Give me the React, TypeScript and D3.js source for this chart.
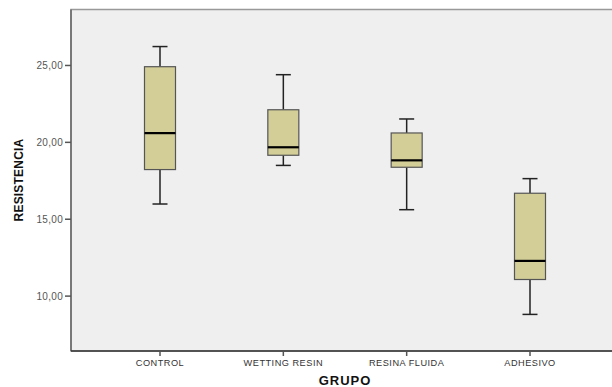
import React from "react";
import * as d3 from "d3";

const categories = ["CONTROL", "WETTING RESIN", "RESINA FLUIDA", "ADHESIVO"];
const whiskerLow = [15.99, 18.5, 15.62, 8.81];
const q1 = [18.23, 19.16, 18.38, 11.08];
const median = [20.6, 19.68, 18.83, 12.29];
const q3 = [24.92, 22.12, 20.61, 16.69];
const whiskerHigh = [26.23, 24.4, 21.52, 17.64];
const yTicks = [10, 15, 20, 25];

export default function App() {
  const W = 612, H = 387;
  const left = 71, top = 9.5, bottom = 351, right = 614;
  const y = d3.scaleLinear().domain([6.43, 28.64]).range([bottom, top]);
  const x = d3.scalePoint<string>().domain(categories).range([160, 530]);
  const bw = 31, cap = 15;
  const fmt = (v: number) => d3.format(".2f")(v).replace(".", ",");
  return (
    <svg width={W} height={H} style={{ position: "absolute", left: 0, top: 0, fontFamily: "Arial, Liberation Sans, sans-serif" }}>
      <rect x={0} y={0} width={W} height={H} fill="#fff" />
      <rect x={left} y={top} width={right - left} height={bottom - top} fill="#efefef" stroke="#999" strokeWidth={1.5} />
      <line x1={left} y1={top} x2={left} y2={bottom} stroke="#666" strokeWidth={1.5} />
      <line x1={left} y1={bottom} x2={right} y2={bottom} stroke="#333" strokeWidth={1.5} />
      {yTicks.map((t) => (
        <g key={t}>
          <line x1={left - 6} x2={left} y1={y(t)} y2={y(t)} stroke="#555" strokeWidth={1.5} />
          <text x={left - 8} y={y(t)} dy="0.35em" textAnchor="end" fontSize={10} letterSpacing={0.3} fill="#555">{fmt(t)}</text>
        </g>
      ))}
      {categories.map((c, i) => {
        const cx = x(c)!;
        return (
          <g key={c}>
            <line x1={cx} x2={cx} y1={bottom} y2={bottom + 5} stroke="#555" strokeWidth={1.5} />
            <text x={cx} y={bottom + 15} textAnchor="middle" fontSize={9.2} letterSpacing={0.5} fill="#333">{c}</text>
            <line x1={cx} x2={cx} y1={y(whiskerHigh[i])} y2={y(q3[i])} stroke="#222" strokeWidth={1.5} />
            <line x1={cx} x2={cx} y1={y(q1[i])} y2={y(whiskerLow[i])} stroke="#222" strokeWidth={1.5} />
            <line x1={cx - cap / 2} x2={cx + cap / 2} y1={y(whiskerHigh[i])} y2={y(whiskerHigh[i])} stroke="#222" strokeWidth={1.5} />
            <line x1={cx - cap / 2} x2={cx + cap / 2} y1={y(whiskerLow[i])} y2={y(whiskerLow[i])} stroke="#222" strokeWidth={1.5} />
            <rect x={cx - bw / 2} y={y(q3[i])} width={bw} height={y(q1[i]) - y(q3[i])} fill="#d3ce98" stroke="#555" strokeWidth={1.2} />
            <line x1={cx - bw / 2} x2={cx + bw / 2} y1={y(median[i])} y2={y(median[i])} stroke="#000" strokeWidth={2.2} />
          </g>
        );
      })}
      <text x={345} y={385} textAnchor="middle" fontSize={13} fontWeight="bold" letterSpacing={1} fill="#111">GRUPO</text>
      <text transform={`translate(23,180) rotate(-90)`} textAnchor="middle" fontSize={12} fontWeight="bold" letterSpacing={0.2} fill="#111">RESISTENCIA</text>
    </svg>
  );
}
